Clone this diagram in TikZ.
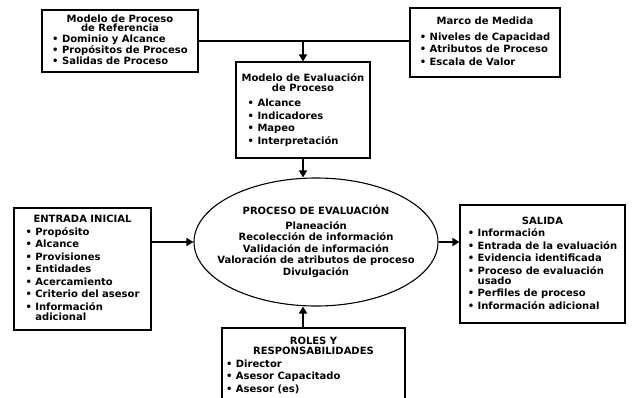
\documentclass[tikz,border=0pt]{standalone}
\usepackage{fontspec}
\setmainfont{DejaVu Sans}
\usetikzlibrary{arrows.meta,shapes.geometric}
\newcommand{\itm}[1]{\textbullet\ #1}
\newcommand{\sangria}{\phantom{\textbullet\ }}
\begin{document}
\begin{tikzpicture}[x=1pt,y=-1pt,
    caja/.style={draw, line width=1.1pt, inner sep=2pt, font=\bfseries\fontsize{10}{12.5}\selectfont},
    flecha/.style={-{Triangle[width=8pt,length=7pt]}, line width=1.4pt},
    linea/.style={line width=2pt}]
  \useasboundingbox (0,0) rectangle (633,397);
  \node[caja, minimum width=156pt, minimum height=62pt] (mpr) at (120,41) {\begin{tabular}{@{}l@{}}
      \multicolumn{1}{@{}c@{}}{Modelo de Proceso}\\[-3pt]
      \multicolumn{1}{@{}c@{}}{de Referencia}\\[-1.5pt]
      \itm{Dominio y Alcance}\\[-1.5pt]
      \itm{Propósitos de Proceso}\\[-1.5pt]
      \itm{Salidas de Proceso}
    \end{tabular}};
  \node[caja, minimum width=150pt, minimum height=69pt] (mm) at (485,42.5) {\begin{tabular}{@{}l@{}}
      \multicolumn{1}{@{}c@{}}{Marco de Medida}\\[3pt]
      \itm{Niveles de Capacidad}\\
      \itm{Atributos de Proceso}\\
      \itm{Escala de Valor}
    \end{tabular}};
  \node[caja, minimum width=134pt, minimum height=96pt] (mep) at (303,110) {\begin{tabular}{@{}l@{}}
      \multicolumn{1}{@{}c@{}}{Modelo de Evaluación}\\[-2.5pt]
      \multicolumn{1}{@{}c@{}}{de Proceso}\\[3pt]
      \hspace{6pt}\itm{Alcance}\\
      \hspace{6pt}\itm{Indicadores}\\
      \hspace{6pt}\itm{Mapeo}\\
      \hspace{6pt}\itm{Interpretación}
    \end{tabular}};
  \node[caja, minimum width=137pt, minimum height=122pt] (ei) at (82.5,269) {\begin{tabular}{@{}l@{}}
      \multicolumn{1}{@{}c@{}}{ENTRADA INICIAL}\\
      \itm{Propósito}\\
      \itm{Alcance}\\
      \itm{Provisiones}\\
      \itm{Entidades}\\
      \itm{Acercamiento}\\
      \itm{Criterio del asesor}\\
      \itm{Información}\\[-2.5pt]
      \sangria adicional
    \end{tabular}};
  \node[caja, minimum width=165pt, minimum height=118pt] (sal) at (542.5,264) {\begin{tabular}{@{}l@{}}
      \multicolumn{1}{@{}c@{}}{SALIDA}\\
      \itm{Información}\\
      \itm{Entrada de la evaluación}\\
      \itm{Evidencia identificada}\\
      \itm{Proceso de evaluación}\\[-2.5pt]
      \sangria usado\\
      \itm{Perfiles de proceso}\\
      \itm{Información adicional}
    \end{tabular}};
  \node[caja, minimum width=183pt, minimum height=76pt] (rr) at (313.5,366) {\begin{tabular}{@{}p{175pt}@{}}
      \multicolumn{1}{@{}c@{}}{ROLES Y}\\[-2.5pt]
      \multicolumn{1}{@{}c@{}}{RESPONSABILIDADES}\\
      \itm{Director}\\
      \itm{Asesor Capacitado}\\
      \itm{Asesor (es)}
    \end{tabular}};
  \node[caja, ellipse, minimum width=244pt, minimum height=128pt,
        font=\bfseries\fontsize{10}{11.5}\selectfont] (pe) at (316,242)
    {\makebox[150pt][c]{\begin{tabular}{@{}c@{}}
      PROCESO DE EVALUACIÓN\\[3pt]
      Planeación\\
      Recolección de información\\
      Validación de información\\
      Valoración de atributos de proceso\\
      Divulgación
    \end{tabular}}};
  \coordinate (union) at (mpr.east -| mep.north);
  \draw[linea] (mpr.east) -- (mpr.east -| mm.west);
  \draw[flecha] (union) -- (mep.north);
  \draw[flecha] (mep.south) -- (mep.south |- pe.north);
  \draw[flecha] (ei.east |- pe.west) -- (pe.west);
  \draw[flecha] (pe.east) -- (pe.east -| sal.west);
  \draw[flecha] (rr.north -| mep.south) -- (mep.south |- pe.south);
\end{tikzpicture}
\end{document}
